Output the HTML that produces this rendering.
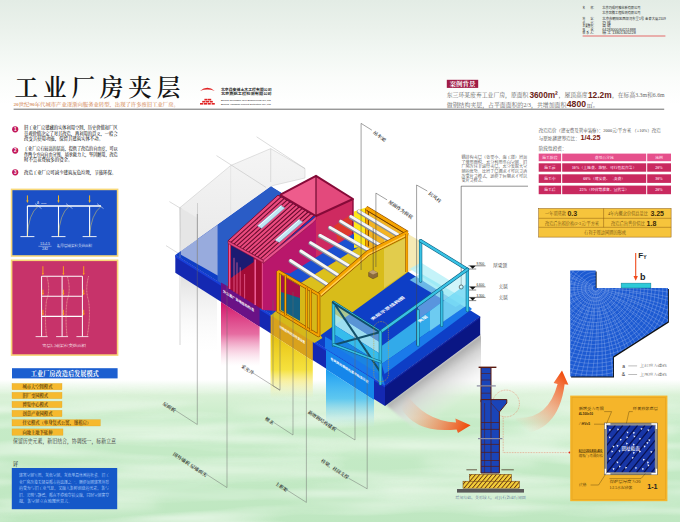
<!DOCTYPE html>
<html lang="zh"><head><meta charset="utf-8"><title>工业厂房夹层</title>
<style>html,body{margin:0;padding:0;background:#fff;overflow:hidden}svg{display:block}</style></head>
<body><svg width="680" height="522" viewBox="0 0 680 522">
<defs>
<linearGradient id="bg" x1="0" y1="0" x2="0" y2="522" gradientUnits="userSpaceOnUse">
<stop offset="0" stop-color="#e3ece5"/><stop offset="0.05" stop-color="#eaf1eb"/><stop offset="0.10" stop-color="#f2f7f3"/><stop offset="0.15" stop-color="#fafcfa"/><stop offset="0.2" stop-color="#ffffff"/>
<stop offset="0.728" stop-color="#ffffff"/><stop offset="0.757" stop-color="#d9f1d6"/><stop offset="0.81" stop-color="#c6ebc7"/><stop offset="1" stop-color="#bfe7c1"/>
</linearGradient>
<linearGradient id="gPink" x1="0" y1="0" x2="0" y2="1"><stop offset="0" stop-color="#d2146a" stop-opacity="1"/><stop offset="0.5" stop-color="#e0488a" stop-opacity=".8"/><stop offset="1" stop-color="#f8c0d8" stop-opacity="0"/></linearGradient>
<linearGradient id="gYel" x1="0" y1="0" x2="0" y2="1"><stop offset="0" stop-color="#e6c010" stop-opacity="1"/><stop offset="0.55" stop-color="#f4de28" stop-opacity=".9"/><stop offset="1" stop-color="#f6f0a0" stop-opacity="0"/></linearGradient>
<linearGradient id="gCy" x1="0" y1="0" x2="0" y2="1"><stop offset="0" stop-color="#1a9cf0" stop-opacity="1"/><stop offset="0.5" stop-color="#48c0f4" stop-opacity=".85"/><stop offset="1" stop-color="#b8e8f4" stop-opacity="0"/></linearGradient>
<linearGradient id="gGray" x1="0" y1="0" x2="0" y2="1"><stop offset="0" stop-color="#d6d6d6" stop-opacity=".9"/><stop offset="1" stop-color="#f4f4f4" stop-opacity="0"/></linearGradient>
<linearGradient id="gShadow" x1="432" y1="368" x2="458" y2="404" gradientUnits="userSpaceOnUse"><stop offset="0" stop-color="#a0a0a0" stop-opacity="1"/><stop offset="0.3" stop-color="#d0d0d0" stop-opacity=".9"/><stop offset="1" stop-color="#f0f0f0" stop-opacity="0"/></linearGradient>
<linearGradient id="gArrow1" x1="405" y1="395" x2="470" y2="425" gradientUnits="userSpaceOnUse"><stop offset="0" stop-color="#f8b090" stop-opacity="0"/><stop offset="0.45" stop-color="#f89468" stop-opacity=".6"/><stop offset="1" stop-color="#f04808"/></linearGradient>
<linearGradient id="gArrow2" x1="520" y1="425" x2="563" y2="372" gradientUnits="userSpaceOnUse"><stop offset="0" stop-color="#f8b090" stop-opacity="0"/><stop offset="0.45" stop-color="#f89468" stop-opacity=".6"/><stop offset="1" stop-color="#f04808"/></linearGradient>
<linearGradient id="gGhost" x1="0" y1="0" x2="0" y2="1"><stop offset="0" stop-color="#f5f5f5"/><stop offset="1" stop-color="#e9e9e9"/></linearGradient>
<linearGradient id="gGlassL" x1="0" y1="0" x2="0" y2="1"><stop offset="0" stop-color="#7fe6f6" stop-opacity=".55"/><stop offset="0.4" stop-color="#38c0ea" stop-opacity=".75"/><stop offset="1" stop-color="#1a8ee0" stop-opacity=".85"/></linearGradient>
<filter id="blur2" x="-20%" y="-20%" width="140%" height="140%"><feGaussianBlur stdDeviation="2"/></filter>
<filter id="blur4" x="-30%" y="-30%" width="160%" height="160%"><feGaussianBlur stdDeviation="4"/></filter>
<filter id="blur1" x="-20%" y="-20%" width="140%" height="140%"><feGaussianBlur stdDeviation="0.8"/></filter>
</defs>
<rect x="0.0" y="0.0" width="680.0" height="522.0" fill="url(#bg)" />
<filter id="wc" x="0" y="0" width="100%" height="100%"><feTurbulence type="fractalNoise" baseFrequency="0.006 0.07" numOctaves="2" seed="7" result="n"/><feColorMatrix in="n" type="matrix" values="0 0 0 0 0.93  0 0 0 0 0.98  0 0 0 0 0.92  0 0 0 2.4 -0.95"/></filter>
<linearGradient id="wcm" x1="0" y1="380" x2="0" y2="410" gradientUnits="userSpaceOnUse"><stop offset="0" stop-color="#000"/><stop offset="1" stop-color="#fff"/></linearGradient>
<mask id="wcmask" maskUnits="userSpaceOnUse" x="0" y="380" width="680" height="142"><rect x="0" y="380" width="680" height="142" fill="url(#wcm)"/></mask>
<rect x="0" y="380" width="680" height="142" filter="url(#wc)" mask="url(#wcmask)" opacity=".6"/>
<g filter="url(#blur4)" opacity=".55">
<ellipse cx="140" cy="428" rx="100" ry="6" fill="#eefaec"/>
<ellipse cx="430" cy="445" rx="130" ry="7" fill="#eefaec"/>
<ellipse cx="230" cy="470" rx="110" ry="6" fill="#eefaec"/>
<ellipse cx="500" cy="492" rx="120" ry="7" fill="#eefaec"/>
<ellipse cx="80" cy="505" rx="80" ry="6" fill="#eefaec"/>
<ellipse cx="600" cy="430" rx="80" ry="8" fill="#eefaec"/>
<ellipse cx="320" cy="410" rx="90" ry="5" fill="#eefaec"/>
<ellipse cx="480" cy="462" rx="60" ry="5" fill="#eefaec"/>
</g>
<rect x="13.6" y="108.6" width="650.6" height="1.3" fill="#8e8e8e" />
<text x="14.4" y="96.2" font-size="23.6" fill="#141414" font-family="'Liberation Serif','Noto Serif CJK SC',serif" font-weight="600" letter-spacing="4.9">工业厂房夹层</text>
<text x="13.4" y="105.9" font-size="5.0" fill="#d99a72" font-family="'Liberation Serif','Noto Serif CJK SC',serif" font-weight="600" text-anchor="start" textLength="165.5" lengthAdjust="spacingAndGlyphs" >20世纪90年代城市产业逐渐向服务业转型，出现了许多废旧工业厂房。</text>
<path d="M200,91 Q207.3,84.4 214.8,91 Q207.3,88.2 200,91Z" fill="#e02424"/>
<rect x="204.4" y="98.8" width="3.2" height="1.6" fill="#e02424" />
<rect x="208.0" y="98.8" width="3.2" height="1.6" fill="#e02424" />
<rect x="202.2" y="100.9" width="3.2" height="1.6" fill="#e02424" />
<rect x="205.8" y="100.9" width="3.2" height="1.6" fill="#e02424" />
<rect x="209.6" y="100.9" width="3.2" height="1.6" fill="#e02424" />
<rect x="200.0" y="103.0" width="3.2" height="1.6" fill="#e02424" />
<rect x="203.8" y="103.0" width="3.2" height="1.6" fill="#e02424" />
<rect x="207.6" y="103.0" width="3.2" height="1.6" fill="#e02424" />
<rect x="211.6" y="103.0" width="3.2" height="1.6" fill="#e02424" />
<text x="220.9" y="91.0" font-size="3.5" fill="#222" font-family="'Liberation Sans','Noto Sans CJK SC',sans-serif" font-weight="bold" text-anchor="start" textLength="50.7" lengthAdjust="spacingAndGlyphs" >北京昌安博土木工程有限公司</text>
<text x="220.9" y="95.1" font-size="3.5" fill="#222" font-family="'Liberation Sans','Noto Sans CJK SC',sans-serif" font-weight="bold" text-anchor="start" textLength="50.7" lengthAdjust="spacingAndGlyphs" >北京燕航工程检测有限公司</text>
<text x="220.9" y="101.2" font-size="2.5" fill="#222" font-family="'Liberation Sans','Noto Sans CJK SC',sans-serif" font-weight="normal" text-anchor="start" textLength="49.8" lengthAdjust="spacingAndGlyphs" >Beijing Reliangbo Civil Engineering Co.,Ltd</text>
<text x="220.9" y="104.7" font-size="2.5" fill="#222" font-family="'Liberation Sans','Noto Sans CJK SC',sans-serif" font-weight="normal" text-anchor="start" textLength="49.8" lengthAdjust="spacingAndGlyphs" >Beijing Yanghan Project Detection Co.,Ltd</text>
<circle cx="15.2" cy="129.3" r="3.1" fill="#c2185b"/>
<text x="15.2" y="130.9" font-size="4.6" fill="#fff" font-family="'Liberation Sans','Noto Sans CJK SC',sans-serif" font-weight="bold" text-anchor="middle" >1</text>
<text x="24.0" y="128.9" font-size="4.4" fill="#2a2a2a" font-family="'Liberation Serif','Noto Serif CJK SC',serif" font-weight="600" text-anchor="start" textLength="93.6" lengthAdjust="spacingAndGlyphs" >旧工业厂房建藏的实体利用空间，历史价值和厂区</text>
<text x="24.0" y="134.5" font-size="4.4" fill="#2a2a2a" font-family="'Liberation Serif','Noto Serif CJK SC',serif" font-weight="600" text-anchor="start" textLength="93.6" lengthAdjust="spacingAndGlyphs" >景观价值决定了对其改造，再利用的意义，一般会</text>
<text x="24.0" y="140.0" font-size="4.4" fill="#2a2a2a" font-family="'Liberation Serif','Noto Serif CJK SC',serif" font-weight="600" text-anchor="start" >改变其使用功能，保留其建筑实体不动。</text>
<circle cx="15.2" cy="150.6" r="3.1" fill="#c2185b"/>
<text x="15.2" y="152.2" font-size="4.6" fill="#fff" font-family="'Liberation Sans','Noto Sans CJK SC',sans-serif" font-weight="bold" text-anchor="middle" >2</text>
<text x="24.0" y="150.2" font-size="4.4" fill="#2a2a2a" font-family="'Liberation Serif','Noto Serif CJK SC',serif" font-weight="600" text-anchor="start" textLength="93.6" lengthAdjust="spacingAndGlyphs" >工业厂房有较高的层高，提供了改造的自由度，可以</text>
<text x="24.0" y="155.8" font-size="4.4" fill="#2a2a2a" font-family="'Liberation Serif','Noto Serif CJK SC',serif" font-weight="600" text-anchor="start" textLength="93.6" lengthAdjust="spacingAndGlyphs" >作两个方向自由分割。墙承载力大，坚固耐用，改造</text>
<text x="24.0" y="161.3" font-size="4.4" fill="#2a2a2a" font-family="'Liberation Serif','Noto Serif CJK SC',serif" font-weight="600" text-anchor="start" >时不需花费较多的资金。</text>
<circle cx="15.2" cy="172.3" r="3.1" fill="#c2185b"/>
<text x="15.2" y="173.9" font-size="4.6" fill="#fff" font-family="'Liberation Sans','Noto Sans CJK SC',sans-serif" font-weight="bold" text-anchor="middle" >3</text>
<text x="24.0" y="173.6" font-size="4.4" fill="#2a2a2a" font-family="'Liberation Serif','Noto Serif CJK SC',serif" font-weight="600" text-anchor="start" >改造工业厂房可减少建筑灰色垃圾，节能环保。</text>
<rect x="11.6" y="189.4" width="106.0" height="66.6" fill="#1b4fc6" stroke="#f8d878" stroke-width="1.6" />
<line x1="27.4" y1="206.0" x2="27.4" y2="236.6" stroke="#fff" stroke-width="1.1" />
<line x1="20.4" y1="236.6" x2="34.4" y2="236.6" stroke="#fff" stroke-width="0.9" />
<line x1="27.4" y1="195.4" x2="27.4" y2="201.0" stroke="#f0b428" stroke-width="1.0" />
<polygon points="26.2,200.4 28.6,200.4 27.4,203.0" fill="#f0b428" />
<line x1="58.5" y1="206.0" x2="58.5" y2="236.6" stroke="#fff" stroke-width="1.1" />
<line x1="51.5" y1="236.6" x2="65.5" y2="236.6" stroke="#fff" stroke-width="0.9" />
<line x1="58.5" y1="195.4" x2="58.5" y2="201.0" stroke="#f0b428" stroke-width="1.0" />
<polygon points="57.3,200.4 59.7,200.4 58.5,203.0" fill="#f0b428" />
<line x1="89.6" y1="206.0" x2="89.6" y2="236.6" stroke="#fff" stroke-width="1.1" />
<line x1="82.6" y1="236.6" x2="96.6" y2="236.6" stroke="#fff" stroke-width="0.9" />
<line x1="89.6" y1="195.4" x2="89.6" y2="201.0" stroke="#f0b428" stroke-width="1.0" />
<polygon points="88.4,200.4 90.8,200.4 89.6,203.0" fill="#f0b428" />
<line x1="27.4" y1="206.0" x2="101.0" y2="206.0" stroke="#fff" stroke-width="1.3" />
<path d="M27.4,236 Q28.4,214 38,206.4" fill="none" stroke="#ffe04a" stroke-width=".45"/>
<path d="M58.5,236 Q59.5,214 69,206.4" fill="none" stroke="#ffe04a" stroke-width=".45"/>
<path d="M89.6,236 Q91,214 101,206.4" fill="none" stroke="#ffe04a" stroke-width=".45"/>
<line x1="35.0" y1="203.6" x2="41.5" y2="208.6" stroke="#fff" stroke-width="0.5" />
<line x1="66.0" y1="203.6" x2="72.5" y2="208.6" stroke="#fff" stroke-width="0.5" />
<line x1="97.0" y1="203.6" x2="103.5" y2="208.6" stroke="#fff" stroke-width="0.5" />
<text x="37.0" y="203.6" font-size="3" fill="#fff" font-family="'Liberation Sans','Noto Sans CJK SC',sans-serif" font-weight="normal" text-anchor="start" >Δ</text>
<text x="41.0" y="203.6" font-size="2.4" fill="#fff" font-family="'Liberation Sans','Noto Sans CJK SC',sans-serif" font-weight="normal" text-anchor="start" >6000</text>
<text x="45.0" y="245.4" font-size="2.9" fill="#fff" font-family="'Liberation Sans','Noto Sans CJK SC',sans-serif" font-weight="normal" text-anchor="middle" >1.5+1.5</text>
<line x1="38.4" y1="246.3" x2="51.6" y2="246.3" stroke="#fff" stroke-width="0.4" />
<text x="45.0" y="249.6" font-size="2.9" fill="#fff" font-family="'Liberation Sans','Noto Sans CJK SC',sans-serif" font-weight="normal" text-anchor="middle" >2.82</text>
<text x="57.0" y="247.3" font-size="3.6" fill="#fff" font-family="'Liberation Serif','Noto Serif CJK SC',serif" font-weight="normal" text-anchor="start" textLength="35.0" lengthAdjust="spacingAndGlyphs" >振单层刚架柱变截面积</text>
<rect x="11.6" y="260.3" width="106.0" height="94.8" fill="#c7336a" stroke="#f8d878" stroke-width="1.6" />
<line x1="41.6" y1="276.2" x2="41.6" y2="336.6" stroke="#fff" stroke-width="1.0" />
<line x1="62.1" y1="276.2" x2="62.1" y2="336.6" stroke="#fff" stroke-width="1.0" />
<line x1="82.4" y1="276.2" x2="82.4" y2="336.6" stroke="#fff" stroke-width="1.0" />
<line x1="41.6" y1="276.2" x2="82.4" y2="276.2" stroke="#fff" stroke-width="1.1" />
<line x1="41.6" y1="296.3" x2="82.4" y2="296.3" stroke="#fff" stroke-width="1.1" />
<line x1="41.6" y1="316.4" x2="82.4" y2="316.4" stroke="#fff" stroke-width="1.1" />
<line x1="35.6" y1="336.6" x2="47.6" y2="336.6" stroke="#fff" stroke-width="0.8" />
<line x1="56.1" y1="336.6" x2="68.1" y2="336.6" stroke="#fff" stroke-width="0.8" />
<line x1="76.4" y1="336.6" x2="88.4" y2="336.6" stroke="#fff" stroke-width="0.8" />
<line x1="42.9" y1="266.2" x2="42.9" y2="273.8" stroke="#ffa51c" stroke-width="0.9" />
<polygon points="41.8,273.2 44.0,273.2 42.9,275.2" fill="#ffa51c" />
<line x1="42.9" y1="289.7" x2="42.9" y2="293.9" stroke="#ffa51c" stroke-width="0.9" />
<polygon points="41.8,293.3 44.0,293.3 42.9,295.3" fill="#ffa51c" />
<line x1="42.9" y1="309.8" x2="42.9" y2="314.0" stroke="#ffa51c" stroke-width="0.9" />
<polygon points="41.8,313.4 44.0,313.4 42.9,315.4" fill="#ffa51c" />
<line x1="63.4" y1="266.2" x2="63.4" y2="273.8" stroke="#ffa51c" stroke-width="0.9" />
<polygon points="62.3,273.2 64.5,273.2 63.4,275.2" fill="#ffa51c" />
<line x1="63.4" y1="289.7" x2="63.4" y2="293.9" stroke="#ffa51c" stroke-width="0.9" />
<polygon points="62.3,293.3 64.5,293.3 63.4,295.3" fill="#ffa51c" />
<line x1="63.4" y1="309.8" x2="63.4" y2="314.0" stroke="#ffa51c" stroke-width="0.9" />
<polygon points="62.3,313.4 64.5,313.4 63.4,315.4" fill="#ffa51c" />
<line x1="83.7" y1="266.2" x2="83.7" y2="273.8" stroke="#ffa51c" stroke-width="0.9" />
<polygon points="82.6,273.2 84.8,273.2 83.7,275.2" fill="#ffa51c" />
<line x1="83.7" y1="289.7" x2="83.7" y2="293.9" stroke="#ffa51c" stroke-width="0.9" />
<polygon points="82.6,293.3 84.8,293.3 83.7,295.3" fill="#ffa51c" />
<line x1="83.7" y1="309.8" x2="83.7" y2="314.0" stroke="#ffa51c" stroke-width="0.9" />
<polygon points="82.6,313.4 84.8,313.4 83.7,315.4" fill="#ffa51c" />
<path d="M88.6,276 Q85,290 88.4,300 Q91,316 87.2,336" fill="none" stroke="#ffe9b0" stroke-width=".5" stroke-dasharray="1,.5"/>
<path d="M47,277 Q50.5,290 46.6,300 Q44.4,316 46.4,336" fill="none" stroke="#ffe9b0" stroke-width=".5" stroke-dasharray="1,.5"/>
<path d="M67.5,277 Q71,290 67.2,300 Q65,316 67,336" fill="none" stroke="#ffe9b0" stroke-width=".5" stroke-dasharray="1,.5"/>
<text x="64.0" y="347.4" font-size="3.7" fill="#fff" font-family="'Liberation Serif','Noto Serif CJK SC',serif" font-weight="normal" text-anchor="middle" textLength="44.0" lengthAdjust="spacingAndGlyphs" >夹层后刚架柱变截面积</text>
<rect x="12.0" y="368.2" width="105.6" height="10.2" fill="#1c5fd0" />
<text x="64.8" y="375.9" font-size="6.3" fill="#fff" font-family="'Liberation Serif','Noto Serif CJK SC',serif" font-weight="bold" text-anchor="middle" textLength="68.0" lengthAdjust="spacingAndGlyphs" >工业厂房改造后发展模式</text>
<rect x="12.0" y="383.4" width="50.0" height="6.4" fill="#f6b92e" stroke="#dca324" stroke-width="0.3" />
<text x="22.4" y="388.2" font-size="4.3" fill="#6a4a10" font-family="'Liberation Serif','Noto Serif CJK SC',serif" font-weight="bold" text-anchor="start" >城市大空间模式</text>
<rect x="12.0" y="392.3" width="50.0" height="6.4" fill="#f6b92e" stroke="#dca324" stroke-width="0.3" />
<text x="22.4" y="397.1" font-size="4.3" fill="#6a4a10" font-family="'Liberation Serif','Noto Serif CJK SC',serif" font-weight="bold" text-anchor="start" >旧厂变园模式</text>
<rect x="12.0" y="401.3" width="50.0" height="6.4" fill="#f6b92e" stroke="#dca324" stroke-width="0.3" />
<text x="22.4" y="406.1" font-size="4.3" fill="#6a4a10" font-family="'Liberation Serif','Noto Serif CJK SC',serif" font-weight="bold" text-anchor="start" >博览中心模式</text>
<rect x="12.0" y="410.3" width="50.0" height="6.4" fill="#f6b92e" stroke="#dca324" stroke-width="0.3" />
<text x="22.4" y="415.1" font-size="4.3" fill="#6a4a10" font-family="'Liberation Serif','Noto Serif CJK SC',serif" font-weight="bold" text-anchor="start" >创意产业园模式</text>
<rect x="12.0" y="419.6" width="88.4" height="6.4" fill="#f6b92e" stroke="#dca324" stroke-width="0.3" />
<text x="22.4" y="424.4" font-size="4.3" fill="#6a4a10" font-family="'Liberation Serif','Noto Serif CJK SC',serif" font-weight="bold" text-anchor="start" >住宅模式（单身复式公寓，廉租房）</text>
<rect x="12.0" y="428.9" width="51.0" height="6.4" fill="#f6b92e" stroke="#dca324" stroke-width="0.3" />
<text x="22.4" y="433.7" font-size="4.3" fill="#6a4a10" font-family="'Liberation Serif','Noto Serif CJK SC',serif" font-weight="bold" text-anchor="start" >向地上地下延伸</text>
<text x="13.0" y="443.2" font-size="5.6" fill="#333" font-family="'Liberation Serif','Noto Serif CJK SC',serif" font-weight="normal" text-anchor="start" textLength="103.0" lengthAdjust="spacingAndGlyphs" >保留历史元素，新旧结合，协调统一，标新立意</text>
<text x="13.0" y="466.0" font-size="5.2" fill="#333" font-family="'Liberation Serif','Noto Serif CJK SC',serif" font-weight="600" text-anchor="start" >评</text>
<rect x="11.8" y="468.0" width="105.4" height="41.2" fill="#1558c8" />
<text x="19.0" y="477.0" font-size="4.1" fill="#bfd8ff" font-family="'Liberation Serif','Noto Serif CJK SC',serif" font-weight="normal" text-anchor="start" textLength="90.0" lengthAdjust="spacingAndGlyphs" >建筑空间实用，灰色空间，灰色里最休闲的社会。旧工</text>
<text x="19.0" y="483.6" font-size="4.1" fill="#bfd8ff" font-family="'Liberation Serif','Noto Serif CJK SC',serif" font-weight="normal" text-anchor="start" textLength="90.0" lengthAdjust="spacingAndGlyphs" >业厂房改造无疑是都市的选择之一。顺便加固建筑外形</text>
<text x="19.0" y="490.2" font-size="4.1" fill="#bfd8ff" font-family="'Liberation Serif','Noto Serif CJK SC',serif" font-weight="normal" text-anchor="start" textLength="90.0" lengthAdjust="spacingAndGlyphs" >的变为与旧工业气息，又融入新鲜创意的元素，新与</text>
<text x="19.0" y="496.8" font-size="4.1" fill="#bfd8ff" font-family="'Liberation Serif','Noto Serif CJK SC',serif" font-weight="normal" text-anchor="start" textLength="90.0" lengthAdjust="spacingAndGlyphs" >旧、光明与静谧，都在不停地穿插交融，同时空间富穿</text>
<text x="19.0" y="503.4" font-size="4.1" fill="#bfd8ff" font-family="'Liberation Serif','Noto Serif CJK SC',serif" font-weight="normal" text-anchor="start" >越，新空间立在地理世界去。</text>
<text x="582.6" y="9.4" font-size="3.3" fill="#2a2a2a" font-family="'Liberation Sans','Noto Sans CJK SC',sans-serif" font-weight="normal" text-anchor="start" textLength="13.0" lengthAdjust="spacingAndGlyphs" >名　　称：</text>
<text x="602.3" y="9.4" font-size="3.3" fill="#2a2a2a" font-family="'Liberation Sans','Noto Sans CJK SC',sans-serif" font-weight="normal" text-anchor="start" textLength="38.0" lengthAdjust="spacingAndGlyphs" >北京巧成时雅化新有限公司</text>
<text x="602.3" y="14.2" font-size="3.3" fill="#2a2a2a" font-family="'Liberation Sans','Noto Sans CJK SC',sans-serif" font-weight="normal" text-anchor="start" textLength="38.0" lengthAdjust="spacingAndGlyphs" >北京奔腾工程检测有限公司</text>
<text x="582.6" y="19.6" font-size="3.3" fill="#2a2a2a" font-family="'Liberation Sans','Noto Sans CJK SC',sans-serif" font-weight="normal" text-anchor="start" textLength="13.0" lengthAdjust="spacingAndGlyphs" >地　　址：</text>
<text x="602.3" y="19.6" font-size="3.3" fill="#2a2a2a" font-family="'Liberation Sans','Noto Sans CJK SC',sans-serif" font-weight="normal" text-anchor="start" textLength="63.5" lengthAdjust="spacingAndGlyphs" >北京市朝阳区西坝河东里1号 金泰大厦2109</text>
<text x="582.6" y="24.0" font-size="3.3" fill="#2a2a2a" font-family="'Liberation Sans','Noto Sans CJK SC',sans-serif" font-weight="normal" text-anchor="start" textLength="13.0" lengthAdjust="spacingAndGlyphs" >设　　计：</text>
<text x="602.3" y="24.0" font-size="3.3" fill="#2a2a2a" font-family="'Liberation Sans','Noto Sans CJK SC',sans-serif" font-weight="normal" text-anchor="start" textLength="8.5" lengthAdjust="spacingAndGlyphs" >巧 成</text>
<text x="582.6" y="27.2" font-size="3.3" fill="#2a2a2a" font-family="'Liberation Sans','Noto Sans CJK SC',sans-serif" font-weight="normal" text-anchor="start" textLength="13.0" lengthAdjust="spacingAndGlyphs" >主要整理：</text>
<text x="602.3" y="27.2" font-size="3.3" fill="#2a2a2a" font-family="'Liberation Sans','Noto Sans CJK SC',sans-serif" font-weight="normal" text-anchor="start" textLength="8.5" lengthAdjust="spacingAndGlyphs" >高 健</text>
<text x="582.6" y="30.8" font-size="3.3" fill="#2a2a2a" font-family="'Liberation Sans','Noto Sans CJK SC',sans-serif" font-weight="normal" text-anchor="start" textLength="13.0" lengthAdjust="spacingAndGlyphs" >电　　话：</text>
<text x="602.3" y="30.8" font-size="3.3" fill="#2a2a2a" font-family="'Liberation Sans','Noto Sans CJK SC',sans-serif" font-weight="normal" text-anchor="start" textLength="33.5" lengthAdjust="spacingAndGlyphs" >64283000/64211888</text>
<text x="582.6" y="34.2" font-size="3.3" fill="#2a2a2a" font-family="'Liberation Sans','Noto Sans CJK SC',sans-serif" font-weight="normal" text-anchor="start" textLength="13.0" lengthAdjust="spacingAndGlyphs" >联 系 人：</text>
<text x="602.3" y="34.2" font-size="3.3" fill="#2a2a2a" font-family="'Liberation Sans','Noto Sans CJK SC',sans-serif" font-weight="normal" text-anchor="start" textLength="33.5" lengthAdjust="spacingAndGlyphs" >杨 工  13801305228</text>
<rect x="582.6" y="35.6" width="82.8" height="0.8" fill="#e04848" />
<rect x="446.8" y="79.8" width="31.4" height="8.1" fill="#a01c46" />
<text x="462.5" y="86.1" font-size="5.4" fill="#fff" font-family="'Liberation Serif','Noto Serif CJK SC',serif" font-weight="bold" text-anchor="middle" textLength="26.0" lengthAdjust="spacingAndGlyphs" >案例背景</text>
<text x="446.8" y="97.3" font-size="5.8" fill="#666" font-family="'Liberation Serif','Noto Serif CJK SC',serif" font-weight="normal" text-anchor="start" textLength="81.6" lengthAdjust="spacingAndGlyphs" >东三环某废弃工业厂房，原面积</text>
<text x="529.4" y="97.5" font-size="9.0" fill="#6b2416" font-family="'Liberation Sans','Noto Sans CJK SC',sans-serif" font-weight="bold" text-anchor="start" textLength="28.4" lengthAdjust="spacingAndGlyphs" >3600m²</text>
<text x="558.6" y="97.3" font-size="5.8" fill="#666" font-family="'Liberation Serif','Noto Serif CJK SC',serif" font-weight="normal" text-anchor="start" textLength="29.0" lengthAdjust="spacingAndGlyphs" >，屋顶高度</text>
<text x="587.9" y="97.5" font-size="9.0" fill="#6b2416" font-family="'Liberation Sans','Noto Sans CJK SC',sans-serif" font-weight="bold" text-anchor="start" textLength="23.7" lengthAdjust="spacingAndGlyphs" >12.2m</text>
<text x="612.0" y="97.3" font-size="5.8" fill="#666" font-family="'Liberation Serif','Noto Serif CJK SC',serif" font-weight="normal" text-anchor="start" textLength="52.6" lengthAdjust="spacingAndGlyphs" >，在标高3.3m和6.6m</text>
<text x="446.8" y="106.7" font-size="5.8" fill="#666" font-family="'Liberation Serif','Noto Serif CJK SC',serif" font-weight="normal" text-anchor="start" textLength="119.6" lengthAdjust="spacingAndGlyphs" >做钢结构夹层，占平面面积的2/3，共增加面积</text>
<text x="566.8" y="106.8" font-size="9.0" fill="#6b2416" font-family="'Liberation Sans','Noto Sans CJK SC',sans-serif" font-weight="bold" text-anchor="start" textLength="19.2" lengthAdjust="spacingAndGlyphs" >4800</text>
<text x="587.0" y="106.7" font-size="5.8" fill="#666" font-family="'Liberation Serif','Noto Serif CJK SC',serif" font-weight="normal" text-anchor="start" >㎡。</text>
<text x="538.7" y="132.2" font-size="4.5" fill="#444" font-family="'Liberation Serif','Noto Serif CJK SC',serif" font-weight="normal" text-anchor="start" textLength="122.0" lengthAdjust="spacingAndGlyphs" >改造造价（建安费及管申装修）：2000元/平方米 （±10%）改造</text>
<text x="538.7" y="139.6" font-size="4.5" fill="#444" font-family="'Liberation Serif','Noto Serif CJK SC',serif" font-weight="normal" text-anchor="start" textLength="41.0" lengthAdjust="spacingAndGlyphs" >与原址翻建筹造比：</text>
<text x="580.4" y="140.4" font-size="7.4" fill="#7a1c10" font-family="'Liberation Sans','Noto Sans CJK SC',sans-serif" font-weight="bold" text-anchor="start" textLength="20.0" lengthAdjust="spacingAndGlyphs" >1/4.25</text>
<text x="538.7" y="149.9" font-size="5" fill="#444" font-family="'Liberation Serif','Noto Serif CJK SC',serif" font-weight="normal" text-anchor="start" textLength="28.0" lengthAdjust="spacingAndGlyphs" >阶段性投资：</text>
<rect x="538.7" y="153.6" width="22.4" height="7.6" fill="#e6508c" />
<text x="549.9" y="158.8" font-size="3.8" fill="#ffd6e6" font-family="'Liberation Serif','Noto Serif CJK SC',serif" font-weight="bold" text-anchor="middle" >施工阶段</text>
<rect x="562.2" y="153.6" width="84.0" height="7.6" fill="#e6508c" />
<text x="604.2" y="158.8" font-size="3.8" fill="#ffd6e6" font-family="'Liberation Serif','Noto Serif CJK SC',serif" font-weight="bold" text-anchor="middle" >费用百分比</text>
<rect x="647.2" y="153.6" width="23.8" height="7.6" fill="#e6508c" />
<text x="659.1" y="158.8" font-size="3.8" fill="#ffd6e6" font-family="'Liberation Serif','Noto Serif CJK SC',serif" font-weight="bold" text-anchor="middle" >比例</text>
<rect x="538.7" y="163.3" width="22.4" height="8.4" fill="#c9295f" />
<text x="549.9" y="168.9" font-size="3.8" fill="#ffd6e6" font-family="'Liberation Serif','Noto Serif CJK SC',serif" font-weight="bold" text-anchor="middle" >施工前</text>
<rect x="562.2" y="163.3" width="84.0" height="8.4" fill="#c9295f" />
<text x="604.2" y="168.9" font-size="3.8" fill="#ffd6e6" font-family="'Liberation Serif','Noto Serif CJK SC',serif" font-weight="bold" text-anchor="middle" >10%（土地费、勘察、可行性报告等）</text>
<rect x="647.2" y="163.3" width="23.8" height="8.4" fill="#c9295f" />
<text x="659.1" y="168.9" font-size="3.8" fill="#ffd6e6" font-family="'Liberation Serif','Noto Serif CJK SC',serif" font-weight="bold" text-anchor="middle" >20%</text>
<rect x="538.7" y="174.3" width="22.4" height="8.6" fill="#c9295f" />
<text x="549.9" y="180.0" font-size="3.8" fill="#ffd6e6" font-family="'Liberation Serif','Noto Serif CJK SC',serif" font-weight="bold" text-anchor="middle" >施工中</text>
<rect x="562.2" y="174.3" width="84.0" height="8.6" fill="#c9295f" />
<text x="604.2" y="180.0" font-size="3.8" fill="#ffd6e6" font-family="'Liberation Serif','Noto Serif CJK SC',serif" font-weight="bold" text-anchor="middle" >60%（建安费、二类费）</text>
<rect x="647.2" y="174.3" width="23.8" height="8.6" fill="#c9295f" />
<text x="659.1" y="180.0" font-size="3.8" fill="#ffd6e6" font-family="'Liberation Serif','Noto Serif CJK SC',serif" font-weight="bold" text-anchor="middle" >30%</text>
<rect x="538.7" y="185.6" width="22.4" height="8.6" fill="#c9295f" />
<text x="549.9" y="191.3" font-size="3.8" fill="#ffd6e6" font-family="'Liberation Serif','Noto Serif CJK SC',serif" font-weight="bold" text-anchor="middle" >施工后</text>
<rect x="562.2" y="185.6" width="84.0" height="8.6" fill="#c9295f" />
<text x="604.2" y="191.3" font-size="3.8" fill="#ffd6e6" font-family="'Liberation Serif','Noto Serif CJK SC',serif" font-weight="bold" text-anchor="middle" >25%（经营筹准备、宣传等）</text>
<rect x="647.2" y="185.6" width="23.8" height="8.6" fill="#c9295f" />
<text x="659.1" y="191.3" font-size="3.8" fill="#ffd6e6" font-family="'Liberation Serif','Noto Serif CJK SC',serif" font-weight="bold" text-anchor="middle" >20%</text>
<rect x="538.7" y="208.5" width="132.4" height="28.6" fill="#f6c43c" stroke="#8a5a10" stroke-width="0.5" />
<line x1="538.7" y1="218.3" x2="671.1" y2="218.3" stroke="#8a5a10" stroke-width="0.5" />
<line x1="538.7" y1="227.3" x2="671.1" y2="227.3" stroke="#8a5a10" stroke-width="0.5" />
<line x1="603.6" y1="208.5" x2="603.6" y2="227.3" stroke="#8a5a10" stroke-width="0.5" />
<text x="545.0" y="215.4" font-size="4.2" fill="#6a4a10" font-family="'Liberation Serif','Noto Serif CJK SC',serif" font-weight="normal" text-anchor="start" textLength="21.0" lengthAdjust="spacingAndGlyphs" >一年期贷款</text>
<text x="567.4" y="216.4" font-size="7" fill="#3a2a08" font-family="'Liberation Sans','Noto Sans CJK SC',sans-serif" font-weight="bold" text-anchor="start" >0.3</text>
<text x="608.0" y="215.4" font-size="4.2" fill="#6a4a10" font-family="'Liberation Serif','Noto Serif CJK SC',serif" font-weight="normal" text-anchor="start" textLength="40.0" lengthAdjust="spacingAndGlyphs" >4年内概念价值总量比</text>
<text x="650.4" y="216.4" font-size="7" fill="#3a2a08" font-family="'Liberation Sans','Noto Sans CJK SC',sans-serif" font-weight="bold" text-anchor="start" >3.25</text>
<text x="545.0" y="224.6" font-size="4.2" fill="#6a4a10" font-family="'Liberation Serif','Noto Serif CJK SC',serif" font-weight="normal" text-anchor="start" textLength="54.0" lengthAdjust="spacingAndGlyphs" >改造后出租价格(2-3元/平方米</text>
<text x="611.0" y="224.6" font-size="4.2" fill="#6a4a10" font-family="'Liberation Serif','Noto Serif CJK SC',serif" font-weight="normal" text-anchor="start" textLength="34.0" lengthAdjust="spacingAndGlyphs" >改造后出售价值比</text>
<text x="646.6" y="225.6" font-size="7" fill="#3a2a08" font-family="'Liberation Sans','Noto Sans CJK SC',sans-serif" font-weight="bold" text-anchor="start" >1.8</text>
<text x="605.0" y="234.0" font-size="4.2" fill="#6a4a10" font-family="'Liberation Serif','Noto Serif CJK SC',serif" font-weight="normal" text-anchor="middle" textLength="42.0" lengthAdjust="spacingAndGlyphs" >有利于周边园圃的形成</text>
<text x="461.4" y="158.9" font-size="4.0" fill="#3a3a3a" font-family="'Liberation Serif','Noto Serif CJK SC',serif" font-weight="normal" text-anchor="start" textLength="65.8" lengthAdjust="spacingAndGlyphs" >钢排构夹层（垫要小、施工简）增加</text>
<text x="461.4" y="163.7" font-size="4.0" fill="#3a3a3a" font-family="'Liberation Serif','Noto Serif CJK SC',serif" font-weight="normal" text-anchor="start" textLength="65.8" lengthAdjust="spacingAndGlyphs" >了使用面积，充分利用竖向空间。旧</text>
<text x="461.4" y="168.3" font-size="4.0" fill="#3a3a3a" font-family="'Liberation Serif','Noto Serif CJK SC',serif" font-weight="normal" text-anchor="start" textLength="65.8" lengthAdjust="spacingAndGlyphs" >厂房改往非进行夹层，充分发掘大空</text>
<text x="461.4" y="172.9" font-size="4.0" fill="#3a3a3a" font-family="'Liberation Serif','Noto Serif CJK SC',serif" font-weight="normal" text-anchor="start" textLength="65.8" lengthAdjust="spacingAndGlyphs" >间的优势。比增于层测求才可以灵活</text>
<text x="461.4" y="177.5" font-size="4.0" fill="#3a3a3a" font-family="'Liberation Serif','Noto Serif CJK SC',serif" font-weight="normal" text-anchor="start" textLength="65.8" lengthAdjust="spacingAndGlyphs" >改变片灵模式，运便于后期求才可以</text>
<text x="461.4" y="182.2" font-size="4.0" fill="#3a3a3a" font-family="'Liberation Serif','Noto Serif CJK SC',serif" font-weight="normal" text-anchor="start" >变片灵模式。</text>
<polyline points="528.0,186.2 461.2,186.2 461.2,285.0" fill="none" stroke="#222" stroke-width="0.5" />
<circle cx="461.2" cy="287" r="2" fill="none" stroke="#222" stroke-width=".5"/>
<line x1="468.5" y1="265.8" x2="485.5" y2="265.8" stroke="#111" stroke-width="0.5" />
<polygon points="469.6,265.8 475.6,265.8 472.6,268.8" fill="#111" />
<line x1="469.0" y1="269.0" x2="476.2" y2="269.0" stroke="#111" stroke-width="0.5" />
<text x="476.4" y="265.0" font-size="3.1" fill="#222" font-family="'Liberation Sans','Noto Sans CJK SC',sans-serif" font-weight="normal" text-anchor="start" >9.900</text>
<text x="493.0" y="267.3" font-size="4.7" fill="#333" font-family="'Liberation Serif','Noto Serif CJK SC',serif" font-weight="normal" text-anchor="start" >屋梁顶</text>
<line x1="468.5" y1="286.8" x2="485.5" y2="286.8" stroke="#111" stroke-width="0.5" />
<polygon points="469.6,286.8 475.6,286.8 472.6,289.8" fill="#111" />
<line x1="469.0" y1="290.0" x2="476.2" y2="290.0" stroke="#111" stroke-width="0.5" />
<text x="476.4" y="286.0" font-size="3.1" fill="#222" font-family="'Liberation Sans','Noto Sans CJK SC',sans-serif" font-weight="normal" text-anchor="start" >6.600</text>
<text x="498.4" y="288.3" font-size="4.7" fill="#333" font-family="'Liberation Serif','Noto Serif CJK SC',serif" font-weight="normal" text-anchor="start" >夹层</text>
<line x1="468.5" y1="297.4" x2="485.5" y2="297.4" stroke="#111" stroke-width="0.5" />
<polygon points="469.6,297.4 475.6,297.4 472.6,300.4" fill="#111" />
<line x1="469.0" y1="300.6" x2="476.2" y2="300.6" stroke="#111" stroke-width="0.5" />
<text x="476.4" y="296.6" font-size="3.1" fill="#222" font-family="'Liberation Sans','Noto Sans CJK SC',sans-serif" font-weight="normal" text-anchor="start" >3.300</text>
<text x="498.4" y="298.9" font-size="4.7" fill="#333" font-family="'Liberation Serif','Noto Serif CJK SC',serif" font-weight="normal" text-anchor="start" >夹层</text>
<clipPath id="shc"><rect x="380" y="300" width="101" height="160"/></clipPath>
<g clip-path="url(#shc)">
<polygon points="386.0,405.0 480.2,335.0 530.0,340.0 530.0,400.0 440.0,450.0" fill="url(#gShadow)" filter="url(#blur1)"/>
</g>
<polygon points="181.0,268.0 197.3,278.0 197.3,345.0 181.0,345.0" fill="url(#gGray)" />
<polygon points="197.3,278.0 217.0,290.5 217.0,352.0 197.3,352.0" fill="url(#gGray)" opacity=".7"/>
<polygon points="180.0,207.6 230.7,165.5 270.7,148.6 305.0,168.6 305.0,178.0 273.0,185.5 217.0,229.0 181.0,251.0" fill="url(#gGhost)" stroke="#c4c4c4" stroke-width="0.5" stroke-linejoin="round" />
<line x1="256.6" y1="136.8" x2="305.0" y2="168.6" stroke="#b8b8b8" stroke-width="0.5" />
<line x1="216.5" y1="155.6" x2="266.0" y2="187.4" stroke="#b8b8b8" stroke-width="0.5" />
<line x1="169.4" y1="201.6" x2="182.0" y2="209.2" stroke="#b8b8b8" stroke-width="0.5" />
<line x1="270.7" y1="148.6" x2="270.7" y2="182.0" stroke="#b8b8b8" stroke-width="0.4" />
<line x1="230.7" y1="165.5" x2="230.7" y2="214.0" stroke="#d4d4d4" stroke-width="0.4" />
<line x1="166.0" y1="245.6" x2="181.0" y2="255.0" stroke="#b8b8b8" stroke-width="0.5" />
<polygon points="175.3,255.0 271.0,186.5 480.2,316.5 385.0,385.4" fill="#0e3ec6" />
<polygon points="271.0,186.5 282.0,193.5 228.0,241.0 228.0,288.0 217.6,281.5 217.6,225.0" fill="#2a5cc6" />
<polygon points="181.0,251.0 217.6,224.8 217.6,275.6 181.0,254.8" fill="#a4b4de" opacity=".92"/>
<polygon points="180.0,207.6 197.5,218.0 197.5,239.2 181.0,251.0" fill="#e6e6e6" />
<line x1="197.5" y1="203.0" x2="197.5" y2="262.0" stroke="#b0b0b0" stroke-width="0.5" />
<line x1="180.0" y1="207.6" x2="180.0" y2="345.0" stroke="#aaa" stroke-width="0.5" />
<polygon points="175.3,255.0 385.0,385.4 385.0,406.1 175.3,272.7" fill="#1428b2" />
<polygon points="175.3,255.0 385.0,385.4 385.0,387.6 175.3,257.2" fill="#1840d8" />
<polygon points="385.0,385.4 480.2,316.5 480.2,335.1 385.0,406.1" fill="#0a1684" />
<polygon points="385.0,385.4 480.2,316.5 480.2,318.0 385.0,386.9" fill="#1024a4" />
<polygon points="221.0,283.7 259.6,307.9 259.6,326.8 221.0,302.0" fill="#6a1286" />
<polygon points="221.0,282.6 259.6,303.6 259.6,309.0 221.0,285.0" fill="#6a1286" />
<polygon points="221.0,302.0 259.6,326.8 259.6,366.0 221.0,366.0" fill="url(#gPink)" />
<polygon points="270.6,314.8 312.8,341.2 312.8,360.9 270.6,333.8" fill="#d9a21c" />
<polygon points="270.6,333.8 312.8,360.9 312.8,399.0 270.6,399.0" fill="url(#gYel)" />
<polygon points="326.0,349.5 374.0,379.6 374.0,400.1 326.0,369.3" fill="#1586ea" />
<polygon points="326.0,369.3 374.0,400.1 374.0,428.0 326.0,428.0" fill="url(#gCy)" />
<text transform="matrix(1,0.627,0,1,223.0,292.3)" font-size="3.5" fill="#fff" font-family="'Liberation Sans','Noto Sans CJK SC',sans-serif" font-weight="bold" textLength="31" lengthAdjust="spacingAndGlyphs">外立面广告墙结构构造</text>
<text transform="matrix(1,0.627,0,1,279.5,327.7)" font-size="3.3" fill="#fff" font-family="'Liberation Sans','Noto Sans CJK SC',sans-serif" font-weight="bold" textLength="25.6" lengthAdjust="spacingAndGlyphs">新钢结构抗震柱梁设置</text>
<text transform="matrix(1,0.627,0,1,330.5,359.7)" font-size="3.4" fill="#fff" font-family="'Liberation Sans','Noto Sans CJK SC',sans-serif" font-weight="bold" textLength="38" lengthAdjust="spacingAndGlyphs">有夹层的钢结构基本构造示意</text>
<polygon points="263.0,260.5 311.0,221.0 316.0,216.0 353.0,199.0 353.0,247.0 278.0,311.0 263.0,310.0" fill="#b9176b" />
<polygon points="228.0,241.0 263.0,260.5 263.0,310.0 228.0,288.0" fill="#a30b36" />
<polygon points="231.0,244.4 253.6,257.6 253.6,262.0 231.0,278.0" fill="#1b1b72" />
<line x1="234.0" y1="257.8" x2="234.0" y2="291.8" stroke="#f06a9c" stroke-width="0.7" />
<line x1="237.0" y1="262.4" x2="237.0" y2="293.7" stroke="#f06a9c" stroke-width="0.7" />
<line x1="240.2" y1="267.3" x2="240.2" y2="295.7" stroke="#f06a9c" stroke-width="0.7" />
<line x1="244.6" y1="274.0" x2="244.6" y2="298.5" stroke="#f06a9c" stroke-width="0.7" />
<line x1="229.6" y1="243.5" x2="229.6" y2="289.0" stroke="#f0609a" stroke-width="1.5" />
<line x1="255.2" y1="259.6" x2="255.2" y2="305.1" stroke="#f0609a" stroke-width="1.5" />
<line x1="262.4" y1="261.0" x2="262.4" y2="309.5" stroke="#e04888" stroke-width="1.2" />
<polygon points="228.0,240.8 278.0,195.2 314.0,215.4 263.3,260.3" fill="#ea4a7e" stroke="#7c0c34" stroke-width="1" stroke-linejoin="round" />
<line x1="230.9" y1="242.4" x2="281.0" y2="196.9" stroke="#640a2c" stroke-width="1.05" />
<line x1="233.9" y1="244.1" x2="284.0" y2="198.6" stroke="#640a2c" stroke-width="1.05" />
<line x1="236.8" y1="245.7" x2="287.0" y2="200.2" stroke="#640a2c" stroke-width="1.05" />
<line x1="239.8" y1="247.3" x2="290.0" y2="201.9" stroke="#640a2c" stroke-width="1.05" />
<line x1="242.7" y1="248.9" x2="293.0" y2="203.6" stroke="#640a2c" stroke-width="1.05" />
<line x1="245.7" y1="250.6" x2="296.0" y2="205.3" stroke="#640a2c" stroke-width="1.05" />
<line x1="248.6" y1="252.2" x2="299.0" y2="207.0" stroke="#640a2c" stroke-width="1.05" />
<line x1="251.5" y1="253.8" x2="302.0" y2="208.7" stroke="#640a2c" stroke-width="1.05" />
<line x1="254.5" y1="255.4" x2="305.0" y2="210.3" stroke="#640a2c" stroke-width="1.05" />
<line x1="257.4" y1="257.1" x2="308.0" y2="212.0" stroke="#640a2c" stroke-width="1.05" />
<line x1="260.4" y1="258.7" x2="311.0" y2="213.7" stroke="#640a2c" stroke-width="1.05" />
<polygon points="228.0,240.8 263.3,260.3 263.3,262.9 228.0,243.4" fill="#e4487f" stroke="#7c0c34" stroke-width="0.5" stroke-linejoin="round" />
<polygon points="257.4,225.8 280.6,205.4 284.8,208.0 261.6,228.4" fill="#bfe6f4" stroke="#5a9ec0" stroke-width="0.4" stroke-linejoin="round" />
<line x1="258.6" y1="226.0" x2="281.8" y2="205.6" stroke="#ffffff" stroke-width="0.9" />
<polygon points="275.0,240.0 298.6,219.4 302.8,222.0 279.2,242.6" fill="#bfe6f4" stroke="#5a9ec0" stroke-width="0.4" stroke-linejoin="round" />
<line x1="276.2" y1="240.2" x2="299.8" y2="219.6" stroke="#ffffff" stroke-width="0.9" />
<polygon points="280.0,194.8 316.0,175.8 316.0,216.0" fill="#ee5c8c" />
<polygon points="316.0,175.8 353.0,199.0 316.0,216.0" fill="#e3497c" />
<polygon points="316.0,216.0 353.0,199.0 353.0,238.5 316.0,262.0" fill="#cf2c60" opacity=".92"/>
<polygon points="334.0,226.0 353.0,213.0 353.0,232.0 338.0,242.0" fill="#e03a28" opacity=".9"/>
<polyline points="280.0,194.8 316.0,175.8 353.0,199.0 316.0,216.0 280.0,194.8" fill="none" stroke="#860a38" stroke-width="2.0" stroke-linejoin="round"/>
<line x1="316.0" y1="175.8" x2="316.0" y2="216.0" stroke="#6e0a30" stroke-width="1.2" />
<line x1="353.0" y1="199.0" x2="353.0" y2="238.5" stroke="#8c0c3c" stroke-width="1.4" />
<polygon points="263.3,260.0 311.8,220.2 316.0,216.4 316.0,219.6 312.4,223.2 263.3,263.4" fill="#e8528c" stroke="#7c0c34" stroke-width="0.5" stroke-linejoin="round" />
<polygon points="280.0,272.0 290.0,273.6 344.0,240.0 353.0,234.0 366.0,241.0 359.5,246.5 300.0,283.4" fill="#1c50d0" />
<polygon points="300.0,283.4 359.5,246.5 366.0,241.0 368.0,254.0 320.0,296.0 318.6,294.6" fill="#dcc01c" />
<polygon points="354.0,211.6 366.0,207.6 366.0,246.0 354.0,248.0" fill="#ffe81a" />
<polygon points="367.0,209.0 407.0,232.6 407.0,272.0 367.0,247.6" fill="#f3b322" />
<polygon points="384.0,236.0 407.0,249.0 407.0,272.0 384.0,258.0" fill="#f4cf5a" />
<polygon points="319.6,296.0 368.0,254.0 408.0,233.0 408.0,272.0 319.6,336.0" fill="#d8bc1a" />
<polygon points="384.0,249.0 406.0,238.0 406.0,272.5 384.0,288.0" fill="#e2cc4c" />
<line x1="366.8" y1="208.6" x2="366.8" y2="247.0" stroke="#8e4c00" stroke-width="3.4" />
<line x1="366.8" y1="208.6" x2="366.8" y2="247.0" stroke="#f6a400" stroke-width="2.4" />
<line x1="368.4" y1="211.0" x2="368.4" y2="246.0" stroke="#5a2c00" stroke-width="0.7" />
<line x1="358.8" y1="211.8" x2="397.7" y2="235.2" stroke="#8a9098" stroke-width="4.2" stroke-linecap="round"/>
<line x1="358.8" y1="211.1" x2="397.7" y2="234.5" stroke="#f7f7f7" stroke-width="2.7" stroke-linecap="round"/>
<line x1="350.8" y1="217.1" x2="389.0" y2="239.9" stroke="#8a9098" stroke-width="4.2" stroke-linecap="round"/>
<line x1="350.8" y1="216.4" x2="389.0" y2="239.2" stroke="#f7f7f7" stroke-width="2.7" stroke-linecap="round"/>
<line x1="340.7" y1="221.8" x2="379.6" y2="245.3" stroke="#8a9098" stroke-width="4.2" stroke-linecap="round"/>
<line x1="340.7" y1="221.1" x2="379.6" y2="244.6" stroke="#f7f7f7" stroke-width="2.7" stroke-linecap="round"/>
<line x1="330.0" y1="228.0" x2="368.9" y2="250.7" stroke="#8a9098" stroke-width="4.2" stroke-linecap="round"/>
<line x1="330.0" y1="227.3" x2="368.9" y2="250.0" stroke="#f7f7f7" stroke-width="2.7" stroke-linecap="round"/>
<line x1="320.0" y1="236.0" x2="358.8" y2="257.4" stroke="#8a9098" stroke-width="4.2" stroke-linecap="round"/>
<line x1="320.0" y1="235.3" x2="358.8" y2="256.7" stroke="#f7f7f7" stroke-width="2.7" stroke-linecap="round"/>
<line x1="310.6" y1="243.3" x2="348.5" y2="266.0" stroke="#8a9098" stroke-width="4.2" stroke-linecap="round"/>
<line x1="310.6" y1="242.6" x2="348.5" y2="265.3" stroke="#f7f7f7" stroke-width="2.7" stroke-linecap="round"/>
<line x1="301.0" y1="251.7" x2="338.0" y2="275.5" stroke="#8a9098" stroke-width="4.2" stroke-linecap="round"/>
<line x1="301.0" y1="251.0" x2="338.0" y2="274.8" stroke="#f7f7f7" stroke-width="2.7" stroke-linecap="round"/>
<line x1="290.6" y1="261.2" x2="327.5" y2="285.0" stroke="#8a9098" stroke-width="4.2" stroke-linecap="round"/>
<line x1="290.6" y1="260.5" x2="327.5" y2="284.3" stroke="#f7f7f7" stroke-width="2.7" stroke-linecap="round"/>
<polyline points="366.2,207.9 407.4,232.8" fill="none" stroke="#8e4c00" stroke-width="4.2" />
<polyline points="366.2,207.9 407.4,232.8" fill="none" stroke="#f6a400" stroke-width="3.0" />
<line x1="367.0" y1="210.6" x2="405.6" y2="234.0" stroke="#5a2c00" stroke-width="0.7" />
<polyline points="319.6,294.6 368.0,253.0 408.2,233.0" fill="none" stroke="#8e4c00" stroke-width="5.4" stroke-linejoin="round"/>
<polyline points="319.6,294.6 368.0,253.0 408.2,233.0" fill="none" stroke="#f6a400" stroke-width="4.2" stroke-linejoin="round"/>
<polyline points="320.6,295.2 368.4,254.2 408.0,234.2" fill="none" stroke="#ffd35a" stroke-width="1.2" stroke-linejoin="round"/>
<line x1="406.8" y1="234.0" x2="406.8" y2="272.0" stroke="#8e4c00" stroke-width="3.0" />
<line x1="406.8" y1="234.0" x2="406.8" y2="272.0" stroke="#f6a400" stroke-width="2.0" />
<polygon points="408.0,234.0 420.0,241.0 420.0,266.5 408.0,272.0" fill="#f3e6a8" opacity=".85"/>
<polygon points="270.8,315.6 279.0,308.4 319.0,333.0 322.4,338.0 314.4,343.0" fill="#d6b81a" />
<polygon points="278.0,271.0 318.6,294.6 318.6,335.6 278.0,311.0" fill="#d6b818" />
<polygon points="281.0,275.0 300.0,286.0 300.0,321.0 281.0,310.0" fill="#156084" />
<polygon points="281.0,275.0 300.0,286.0 300.0,298.0 281.0,292.0" fill="#a8104a" />
<polyline points="278.0,271.0 318.6,294.6 318.6,335.6 278.0,311.0 278.0,271.0" fill="none" stroke="#8e4c00" stroke-width="3.4" stroke-linejoin="round"/>
<polyline points="278.0,271.0 318.6,294.6 318.6,335.6 278.0,311.0 278.0,271.0" fill="none" stroke="#f6a400" stroke-width="2.2" stroke-linejoin="round"/>
<line x1="285.4" y1="275.3" x2="285.4" y2="315.5" stroke="#8e4c00" stroke-width="2.2" />
<line x1="285.4" y1="275.3" x2="285.4" y2="315.5" stroke="#f6a400" stroke-width="1.3" />
<line x1="306.6" y1="287.6" x2="306.6" y2="328.3" stroke="#8e4c00" stroke-width="2.2" />
<line x1="306.6" y1="287.6" x2="306.6" y2="328.3" stroke="#f6a400" stroke-width="1.3" />
<line x1="310.6" y1="289.9" x2="310.6" y2="330.8" stroke="#8e4c00" stroke-width="2.2" />
<line x1="310.6" y1="289.9" x2="310.6" y2="330.8" stroke="#f6a400" stroke-width="1.3" />
<line x1="373.2" y1="228.0" x2="373.2" y2="270.6" stroke="#333" stroke-width="0.5" />
<polygon points="368.6,272.4 373.0,270.4 377.6,272.8 377.6,276.6 373.0,278.8 368.6,276.4" fill="#8a6a3c" stroke="#4a3414" stroke-width="0.4" stroke-linejoin="round" />
<polygon points="368.6,272.0 373.0,270.0 377.6,272.4 373.0,274.4" fill="#c0a070" />
<polygon points="325.0,336.5 333.5,341.6 381.0,371.4 385.0,385.4 325.0,348.2" fill="#1878ea" />
<polygon points="409.7,268.8 420.9,262.6 453.0,282.6 441.0,289.2" fill="#b6f0f8" opacity=".8"/>
<polygon points="409.7,280.0 420.9,273.6 467.0,300.0 455.6,307.0" fill="#8fe6f4" opacity=".72"/>
<polygon points="418.0,305.6 467.4,270.6 467.4,284.0 418.0,319.4" fill="#a4ecf6" opacity=".5"/>
<polygon points="333.5,302.4 380.4,332.0 380.4,342.5 333.5,312.9" fill="#8ccfe0" opacity="0.6"/>
<polygon points="333.5,312.9 380.4,342.5 380.4,354.0 333.5,324.4" fill="#a4e6f2" opacity="0.95"/>
<polygon points="333.5,324.4 380.4,354.0 380.4,363.6 333.5,334.0" fill="#36bcec" opacity="1"/>
<polygon points="333.5,334.0 380.4,363.6 380.4,375.0 333.5,345.4" fill="#1a84e2" opacity="1"/>
<polygon points="381.6,346.0 467.4,283.6 467.4,305.0 381.6,364.0" fill="#3cc6f2" opacity=".8"/>
<polygon points="381.6,364.0 467.4,305.0 472.0,309.0 384.5,374.0" fill="#1a7aea" />
<polygon points="430.0,311.0 467.4,283.6 467.4,305.0 430.0,331.0" fill="#a8ecf8" opacity=".5"/>
<line x1="420.6" y1="240.8" x2="420.6" y2="281.0" stroke="#0e5f80" stroke-width="3.3000000000000003" stroke-linecap="round"/>
<line x1="420.6" y1="240.8" x2="420.6" y2="281.0" stroke="#39c2e4" stroke-width="2.2" stroke-linecap="round"/>
<line x1="420.6" y1="240.8" x2="467.4" y2="269.4" stroke="#0e5f80" stroke-width="3.5" stroke-linecap="round"/>
<line x1="420.6" y1="240.8" x2="467.4" y2="269.4" stroke="#39c2e4" stroke-width="2.4" stroke-linecap="round"/>
<line x1="467.4" y1="269.4" x2="467.4" y2="310.6" stroke="#0e5f80" stroke-width="3.3000000000000003" stroke-linecap="round"/>
<line x1="467.4" y1="269.4" x2="467.4" y2="310.6" stroke="#39c2e4" stroke-width="2.2" stroke-linecap="round"/>
<line x1="441.7" y1="291.7" x2="441.7" y2="325.4" stroke="#0e5f80" stroke-width="3.1" stroke-linecap="round"/>
<line x1="441.7" y1="291.7" x2="441.7" y2="325.4" stroke="#39c2e4" stroke-width="2" stroke-linecap="round"/>
<line x1="418.0" y1="310.4" x2="418.0" y2="345.0" stroke="#0e5f80" stroke-width="3.1" stroke-linecap="round"/>
<line x1="418.0" y1="310.4" x2="418.0" y2="345.0" stroke="#39c2e4" stroke-width="2" stroke-linecap="round"/>
<line x1="333.5" y1="302.4" x2="380.4" y2="372.0" stroke="#12506a" stroke-width="2.0" />
<line x1="333.5" y1="345.0" x2="380.4" y2="332.0" stroke="#12506a" stroke-width="2.0" />
<line x1="333.5" y1="302.4" x2="333.5" y2="345.3" stroke="#0e5f80" stroke-width="3.3000000000000003" stroke-linecap="round"/>
<line x1="333.5" y1="302.4" x2="333.5" y2="345.3" stroke="#39c2e4" stroke-width="2.2" stroke-linecap="round"/>
<line x1="333.5" y1="302.4" x2="380.4" y2="332.0" stroke="#12506a" stroke-width="3.2" stroke-linecap="round"/>
<line x1="333.5" y1="301.5" x2="380.4" y2="331.1" stroke="#39c2e4" stroke-width="0.9" />
<line x1="380.4" y1="332.0" x2="467.4" y2="269.4" stroke="#0e5f80" stroke-width="3.5" stroke-linecap="round"/>
<line x1="380.4" y1="332.0" x2="467.4" y2="269.4" stroke="#39c2e4" stroke-width="2.4" stroke-linecap="round"/>
<line x1="380.4" y1="332.0" x2="380.4" y2="384.0" stroke="#0e5f80" stroke-width="3.3000000000000003" stroke-linecap="round"/>
<line x1="380.4" y1="332.0" x2="380.4" y2="384.0" stroke="#39c2e4" stroke-width="2.2" stroke-linecap="round"/>
<line x1="333.5" y1="344.6" x2="380.4" y2="362.0" stroke="#0e5f80" stroke-width="2.7" stroke-linecap="round"/>
<line x1="333.5" y1="344.6" x2="380.4" y2="362.0" stroke="#39c2e4" stroke-width="1.6" stroke-linecap="round"/>
<text transform="matrix(0.82,-0.575,0.62,0.40,372.6,320.6)" font-size="5.7" fill="#fff" font-family="'Liberation Sans','Noto Sans CJK SC',sans-serif" font-weight="bold">夹层示意结构图</text>
<text transform="matrix(0.82,-0.575,0.62,0.40,419.4,322.8)" font-size="5.4" fill="#fff" font-family="'Liberation Sans','Noto Sans CJK SC',sans-serif" font-weight="bold">夹层</text>
<rect x="373.8" y="321.6" width="14.6" height="60" rx="7.3" fill="none" stroke="#c8a030" stroke-width=".6" stroke-dasharray="1,0.8"/>
<circle cx="461.2" cy="287" r="2" fill="#dff" fill-opacity=".4" stroke="#333" stroke-width=".5"/>
<polyline points="361.1,270.0 361.1,123.4 371.8,130.1" fill="none" stroke="#444" stroke-width="0.5" />
<text transform="translate(372.6,133.2) rotate(37.0)" font-size="4.6" fill="#222" font-family="'Liberation Serif','Noto Serif CJK SC',serif" font-weight="600" textLength="15.0" lengthAdjust="spacingAndGlyphs">吊车梁</text>
<polyline points="375.9,267.0 375.9,193.1 387.1,199.9" fill="none" stroke="#444" stroke-width="0.5" />
<text transform="translate(388.0,202.8) rotate(35.0)" font-size="4.6" fill="#222" font-family="'Liberation Serif','Noto Serif CJK SC',serif" font-weight="600" textLength="28.5" lengthAdjust="spacingAndGlyphs">屋面作为荷载</text>
<polyline points="416.6,345.0 416.6,185.0 427.3,191.0" fill="none" stroke="#444" stroke-width="0.5" />
<text transform="translate(428.0,194.0) rotate(38.0)" font-size="4.6" fill="#222" font-family="'Liberation Serif','Noto Serif CJK SC',serif" font-weight="600" textLength="15.0" lengthAdjust="spacingAndGlyphs">抗风柱</text>
<text transform="translate(162.2,404.4) rotate(33.6)" font-size="4.7" fill="#222" font-family="'Liberation Serif','Noto Serif CJK SC',serif" font-weight="600" textLength="14.5" lengthAdjust="spacingAndGlyphs">屋面板</text>
<polyline points="174.8,410.0 197.3,424.5 197.3,214.0" fill="none" stroke="#666" stroke-width="0.45" />
<text transform="translate(240.4,367.0) rotate(33.6)" font-size="4.7" fill="#222" font-family="'Liberation Serif','Noto Serif CJK SC',serif" font-weight="600" textLength="14.5" lengthAdjust="spacingAndGlyphs">采光井</text>
<polyline points="252.6,372.8 280.0,390.2 280.0,300.0" fill="none" stroke="#666" stroke-width="0.45" />
<text transform="translate(264.6,419.6) rotate(33.6)" font-size="4.7" fill="#222" font-family="'Liberation Serif','Noto Serif CJK SC',serif" font-weight="600" textLength="9.6" lengthAdjust="spacingAndGlyphs">檩条</text>
<polyline points="274.0,422.6 293.0,435.0 293.0,292.0" fill="none" stroke="#666" stroke-width="0.45" />
<text transform="translate(172.4,455.0) rotate(33.6)" font-size="4.7" fill="#222" font-family="'Liberation Serif','Noto Serif CJK SC',serif" font-weight="600" textLength="40.0" lengthAdjust="spacingAndGlyphs">围外墙板 屋墙面夹</text>
<polyline points="207.0,474.7 227.0,487.6 227.0,282.0" fill="none" stroke="#666" stroke-width="0.45" />
<text transform="translate(307.4,413.0) rotate(33.6)" font-size="4.7" fill="#222" font-family="'Liberation Serif','Noto Serif CJK SC',serif" font-weight="600" textLength="33.0" lengthAdjust="spacingAndGlyphs">新增钢结构楼板</text>
<polyline points="335.6,428.0 355.0,440.0 355.0,335.0" fill="none" stroke="#666" stroke-width="0.45" />
<text transform="translate(320.6,461.6) rotate(33.6)" font-size="4.7" fill="#222" font-family="'Liberation Serif','Noto Serif CJK SC',serif" font-weight="600" textLength="32.0" lengthAdjust="spacingAndGlyphs">柱梁、柱间支撑</text>
<polyline points="348.5,478.2 367.2,488.8 367.2,350.0" fill="none" stroke="#666" stroke-width="0.45" />
<text transform="translate(274.6,484.4) rotate(33.6)" font-size="4.7" fill="#222" font-family="'Liberation Serif','Noto Serif CJK SC',serif" font-weight="600" textLength="14.0" lengthAdjust="spacingAndGlyphs">主框架</text>
<polyline points="286.6,489.8 306.4,502.4 306.4,330.0" fill="none" stroke="#666" stroke-width="0.45" />
<line x1="273.0" y1="300.0" x2="273.0" y2="385.8" stroke="#666" stroke-width="0.45" />
<line x1="273.0" y1="385.8" x2="280.0" y2="390.2" stroke="#666" stroke-width="0.45" />
<path d="M404,391 Q424,421 456,422.6 L455.4,418.6 L470.6,425.2 L458,433 L456.6,429.4 Q416,434 401,408Z" fill="url(#gArrow1)"/>
<path d="M516,418 Q548,420 557.6,384 L553.6,383 L562,370.4 L568.4,384.8 L564.6,384.2 Q558,436 512,434Z" fill="url(#gArrow2)"/>
<circle cx="506" cy="403.5" r="13.4" fill="none" stroke="#e86a4a" stroke-width=".5" stroke-dasharray="0.8,0.8"/>
<polyline points="503.2,416.6 503.2,452.6 569.0,452.6" fill="none" stroke="#e86a4a" stroke-width="0.5" stroke-dasharray="0.8,0.8"/>
<circle cx="569.6" cy="452.6" r="1" fill="#e02818"/>
<rect x="481.0" y="367.6" width="10.0" height="34.0" fill="#1a44b8" stroke="#5a1a10" stroke-width="1" />
<rect x="478.6" y="366.6" width="17.8" height="1.4" fill="#5a1a10" />
<line x1="481.0" y1="373.5" x2="491.0" y2="373.5" stroke="#5a1a10" stroke-width="0.6" />
<line x1="481.0" y1="380.0" x2="491.0" y2="380.0" stroke="#5a1a10" stroke-width="0.6" />
<line x1="481.0" y1="386.6" x2="491.0" y2="386.6" stroke="#5a1a10" stroke-width="0.6" />
<line x1="481.0" y1="393.2" x2="491.0" y2="393.2" stroke="#5a1a10" stroke-width="0.6" />
<polygon points="481.0,399.6 506.8,399.6 506.8,403.0 499.4,412.0 499.4,473.0 481.0,473.0" fill="#1a44b8" stroke="#5a1a10" stroke-width="1" stroke-linejoin="round" />
<line x1="491.0" y1="400.0" x2="491.0" y2="473.0" stroke="#5a1a10" stroke-width="0.7" />
<line x1="484.6" y1="403.0" x2="484.6" y2="473.0" stroke="#5a1a10" stroke-width="0.5" />
<line x1="491.0" y1="403.0" x2="499.0" y2="412.0" stroke="#5a1a10" stroke-width="0.5" />
<line x1="481.0" y1="422.5" x2="499.4" y2="422.5" stroke="#5a1a10" stroke-width="0.7" />
<line x1="481.0" y1="429.4" x2="499.4" y2="429.4" stroke="#5a1a10" stroke-width="0.7" />
<line x1="481.0" y1="444.4" x2="499.4" y2="444.4" stroke="#5a1a10" stroke-width="0.7" />
<line x1="481.0" y1="452.4" x2="499.4" y2="452.4" stroke="#5a1a10" stroke-width="0.7" />
<line x1="481.0" y1="460.5" x2="499.4" y2="460.5" stroke="#5a1a10" stroke-width="0.7" />
<line x1="481.0" y1="466.4" x2="499.4" y2="466.4" stroke="#5a1a10" stroke-width="0.7" />
<rect x="478.0" y="438.0" width="24.4" height="1.2" fill="#8a8aa0" />
<rect x="476.8" y="385.3" width="19.0" height="1.2" fill="#8a8aa0" />
<line x1="466.4" y1="469.8" x2="477.0" y2="469.8" stroke="#3a2010" stroke-width="0.7" />
<line x1="501.4" y1="469.8" x2="513.8" y2="469.8" stroke="#3a2010" stroke-width="0.7" />
<defs><pattern id="hatch" width="3.2" height="3.2" patternUnits="userSpaceOnUse" patternTransform="rotate(-50)"><rect width="3.2" height="3.2" fill="#f4cf3a"/><rect width="3.2" height="0.9" fill="#6a3a10"/></pattern></defs>
<rect x="469.4" y="474.3" width="42.0" height="7.0" fill="url(#hatch)" stroke="#6a3a10" stroke-width="0.5" />
<rect x="463.0" y="481.2" width="56.4" height="7.0" fill="url(#hatch)" stroke="#6a3a10" stroke-width="0.5" />
<rect x="457.0" y="489.0" width="67.0" height="3.6" fill="#5a5a5a" />
<text x="490.6" y="499.4" font-size="3.5" fill="#4a5a90" font-family="'Liberation Serif','Noto Serif CJK SC',serif" font-weight="normal" text-anchor="middle" textLength="70.0" lengthAdjust="spacingAndGlyphs" >增加基础，变形较大，对其有效进行加固</text>
<g transform="translate(0.7,0.5)">
<g transform="translate(0.9,0.9)">
<polygon points="569.5,270.0 595.0,270.0 595.0,287.5 667.3,287.5 667.3,321.0 612.4,356.0 612.4,376.0 569.5,376.0" fill="#111" />
</g>
<clipPath id="bk"><polygon points="569.5,270.0 595.0,270.0 595.0,287.5 667.3,287.5 667.3,321.0 612.4,356.0 612.4,376.0 569.5,376.0"/></clipPath>
<polygon points="569.5,270.0 595.0,270.0 595.0,287.5 667.3,287.5 667.3,321.0 612.4,356.0 612.4,376.0 569.5,376.0" fill="#1c5ad2" />
<g clip-path="url(#bk)" fill="none" stroke="#e6eeff" stroke-width=".36" opacity=".62">
<ellipse cx="594.9" cy="287.6" rx="3.2" ry="3.0"/>
<ellipse cx="594.7" cy="287.7" rx="6.7" ry="6.3"/>
<ellipse cx="594.6" cy="287.8" rx="10.3" ry="9.6"/>
<ellipse cx="594.4" cy="287.9" rx="13.8" ry="13.0"/>
<ellipse cx="594.3" cy="288.0" rx="17.4" ry="16.4"/>
<ellipse cx="594.2" cy="288.1" rx="21.0" ry="19.7"/>
<ellipse cx="594.0" cy="288.2" rx="24.6" ry="23.2"/>
<ellipse cx="593.9" cy="288.3" rx="28.3" ry="26.6"/>
<ellipse cx="593.7" cy="288.5" rx="32.0" ry="30.0"/>
<ellipse cx="593.6" cy="288.6" rx="35.6" ry="33.5"/>
<ellipse cx="593.4" cy="288.7" rx="39.4" ry="37.0"/>
<ellipse cx="593.3" cy="288.8" rx="43.1" ry="40.5"/>
<ellipse cx="593.1" cy="288.9" rx="46.9" ry="44.0"/>
<ellipse cx="593.0" cy="289.0" rx="50.6" ry="47.6"/>
<ellipse cx="592.8" cy="289.1" rx="54.4" ry="51.2"/>
<ellipse cx="592.7" cy="289.2" rx="58.3" ry="54.8"/>
<ellipse cx="592.5" cy="289.4" rx="62.1" ry="58.4"/>
<ellipse cx="592.4" cy="289.5" rx="66.0" ry="62.0"/>
<ellipse cx="592.2" cy="289.6" rx="69.9" ry="65.7"/>
<ellipse cx="592.0" cy="289.7" rx="73.8" ry="69.4"/>
<ellipse cx="591.9" cy="289.8" rx="77.7" ry="73.1"/>
<ellipse cx="591.7" cy="290.0" rx="81.7" ry="76.8"/>
<ellipse cx="591.6" cy="290.1" rx="85.7" ry="80.6"/>
<ellipse cx="591.4" cy="290.2" rx="89.7" ry="84.3"/>
<ellipse cx="591.2" cy="290.3" rx="93.8" ry="88.1"/>
<ellipse cx="591.1" cy="290.4" rx="97.8" ry="91.9"/>
<ellipse cx="590.9" cy="290.6" rx="101.9" ry="95.8"/>
<ellipse cx="590.8" cy="290.7" rx="106.0" ry="99.7"/>
<ellipse cx="590.6" cy="290.8" rx="110.2" ry="103.5"/>
<ellipse cx="590.4" cy="290.9" rx="114.3" ry="107.5"/>
<ellipse cx="590.3" cy="291.1" rx="118.5" ry="111.4"/>
<ellipse cx="590.1" cy="291.2" rx="122.7" ry="115.3"/>
<path d="M597.6,286.0 Q646.4,256.5 713.5,234.1"/>
<path d="M612.9,278.5 Q648.1,259.6 716.5,241.2"/>
<path d="M603.3,284.0 Q649.7,262.8 719.0,248.5"/>
<path d="M627.0,276.0 Q651.0,266.1 721.1,255.9"/>
<path d="M597.9,286.7 Q652.2,269.4 722.8,263.4"/>
<path d="M614.5,283.0 Q653.2,272.8 724.0,271.0"/>
<path d="M603.9,286.0 Q653.9,276.3 724.7,278.7"/>
<path d="M628.8,283.8 Q654.5,279.8 725.0,286.4"/>
<path d="M598.0,287.4 Q654.9,283.4 724.8,294.1"/>
<path d="M615.0,287.7 Q655.0,286.9 724.2,301.8"/>
<path d="M604.0,288.1 Q654.9,290.5 723.1,309.5"/>
<path d="M628.7,291.9 Q654.6,294.0 721.6,317.0"/>
<path d="M597.9,288.1 Q654.2,297.6 719.6,324.5"/>
<path d="M614.4,292.4 Q653.4,301.1 717.2,331.8"/>
<path d="M603.6,290.2 Q652.5,304.5 714.4,339.0"/>
<path d="M626.7,299.7 Q651.4,307.9 711.1,346.0"/>
<path d="M597.7,288.7 Q650.1,311.2 707.4,352.8"/>
<path d="M612.7,296.8 Q648.6,314.4 703.4,359.3"/>
<path d="M602.7,292.2 Q646.9,317.5 698.9,365.6"/>
<path d="M623.0,306.8 Q645.1,320.6 694.1,371.6"/>
<path d="M597.4,289.3 Q643.0,323.5 688.9,377.4"/>
<path d="M610.0,300.7 Q640.8,326.3 683.4,382.8"/>
<path d="M601.4,293.8 Q638.4,328.9 677.6,387.9"/>
<path d="M617.7,312.8 Q635.9,331.4 671.5,392.6"/>
<path d="M596.9,289.9 Q633.2,333.8 665.2,396.9"/>
<path d="M606.5,303.9 Q630.4,336.0 658.6,400.9"/>
<path d="M599.7,295.2 Q627.5,338.0 651.7,404.5"/>
<path d="M611.1,317.5 Q624.4,339.8 644.7,407.6"/>
<path d="M596.3,290.2 Q621.3,341.5 637.5,410.4"/>
<path d="M602.3,306.1 Q618.0,342.9 630.1,412.7"/>
<path d="M597.8,296.1 Q614.7,344.2 622.6,414.5"/>
<path d="M603.6,320.4 Q611.3,345.2 615.0,415.9"/>
<path d="M595.6,290.4 Q607.8,346.1 607.4,416.9"/>
<path d="M597.7,307.3 Q604.3,346.8 599.7,417.4"/>
<path d="M595.7,296.5 Q600.8,347.2 592.0,417.5"/>
<path d="M595.6,321.5 Q597.2,347.5 584.3,417.1"/>
<path d="M594.9,290.5 Q593.7,347.5 576.6,416.2"/>
<path d="M593.0,307.4 Q590.1,347.3 569.0,414.9"/>
<path d="M593.6,296.4 Q586.6,346.9 561.5,413.1"/>
<path d="M587.6,320.7 Q583.1,346.3 554.1,410.9"/>
<path d="M594.2,290.4 Q579.6,345.5 546.9,408.3"/>
<path d="M588.4,306.4 Q576.2,344.5 539.8,405.2"/>
<path d="M591.5,295.8 Q572.9,343.3 532.9,401.7"/>
<path d="M580.0,318.0 Q569.6,341.9 526.2,397.8"/>
<path d="M593.5,290.1 Q566.4,340.3 519.8,393.6"/>
<path d="M584.1,304.3 Q563.3,338.5 513.7,388.9"/>
<path d="M589.7,294.7 Q560.4,336.5 507.8,383.9"/>
<path d="M573.2,313.6 Q557.5,334.4 502.2,378.6"/>
<path d="M592.9,289.7 Q554.8,332.1 497.0,372.9"/>
<path d="M580.5,301.2 Q552.2,329.6 492.1,366.9"/>
<path d="M588.1,293.3 Q549.8,327.0 487.6,360.7"/>
<path d="M567.7,307.8 Q547.6,324.2 483.4,354.2"/>
<path d="M592.5,289.1 Q545.5,321.4 479.7,347.5"/>
<path d="M577.6,297.4 Q543.5,318.4 476.3,340.5"/>
<path d="M586.9,291.5 Q541.8,315.2 473.4,333.4"/>
<path d="M563.7,300.8 Q540.2,312.0 470.9,326.1"/>
<path d="M592.2,288.5 Q538.9,308.8 468.8,318.7"/>
<path d="M575.8,293.1 Q537.7,305.4 467.2,311.1"/>
<path d="M586.2,289.5 Q536.8,302.0 466.0,303.5"/>
<path d="M561.5,293.1 Q536.0,298.5 465.3,295.8"/>
<path d="M592.0,287.8 Q535.5,295.0 465.0,288.1"/>
<path d="M575.0,288.4 Q535.1,291.4 465.2,280.4"/>
<path d="M586.0,287.4 Q535.0,287.9 465.8,272.7"/>
<path d="M561.1,285.0 Q535.1,284.3 466.9,265.1"/>
<path d="M592.0,287.1 Q535.4,280.8 468.5,257.5"/>
<path d="M575.4,283.7 Q535.9,277.2 470.5,250.1"/>
<path d="M586.3,285.3 Q536.6,273.7 472.9,242.8"/>
<path d="M562.6,277.1 Q537.5,270.3 475.8,235.6"/>
<path d="M592.2,286.4 Q538.6,266.9 479.1,228.6"/>
<path d="M576.8,279.2 Q540.0,263.6 482.8,221.9"/>
<path d="M587.1,283.3 Q541.5,260.4 486.9,215.3"/>
<path d="M566.0,269.8 Q543.2,257.3 491.4,209.0"/>
<path d="M592.5,285.8 Q545.1,254.2 496.2,203.0"/>
</g>
<rect x="620.4" y="282.6" width="29.8" height="4.9" fill="#2ecad8" stroke="#0a6a80" stroke-width="0.4" />
<line x1="635.0" y1="252.6" x2="635.0" y2="277.0" stroke="#f04a1c" stroke-width="1.1" />
<polygon points="632.8,275.6 637.2,275.6 635.0,280.2" fill="#f04a1c" />
<text x="637.6" y="257.6" font-size="8" fill="#222" font-family="'Liberation Sans','Noto Sans CJK SC',sans-serif" font-weight="bold" text-anchor="start" >F</text>
<text x="642.6" y="258.2" font-size="5" fill="#222" font-family="'Liberation Sans','Noto Sans CJK SC',sans-serif" font-weight="bold" text-anchor="start" >Y</text>
<text x="639.4" y="279.4" font-size="9" fill="#222" font-family="'Liberation Sans','Noto Sans CJK SC',sans-serif" font-weight="bold" text-anchor="start" >b</text>
<text x="621.6" y="367.0" font-size="5" fill="#333" font-family="'Liberation Sans','Noto Sans CJK SC',sans-serif" font-weight="normal" text-anchor="start" >a</text>
<line x1="627.6" y1="365.4" x2="636.4" y2="365.4" stroke="#555" stroke-width="0.4" />
<text x="639.0" y="366.8" font-size="3.9" fill="#555" font-family="'Liberation Serif','Noto Serif CJK SC',serif" font-weight="normal" text-anchor="start" textLength="27.0" lengthAdjust="spacingAndGlyphs" >主拉应力迹线</text>
<text x="621.0" y="375.6" font-size="5" fill="#333" font-family="'Liberation Sans','Noto Sans CJK SC',sans-serif" font-weight="normal" text-anchor="start" >&amp;</text>
<line x1="627.6" y1="374.0" x2="636.4" y2="374.0" stroke="#555" stroke-width="0.4" />
<text x="639.0" y="375.4" font-size="3.9" fill="#555" font-family="'Liberation Serif','Noto Serif CJK SC',serif" font-weight="normal" text-anchor="start" textLength="27.0" lengthAdjust="spacingAndGlyphs" >主压应力迹线</text>
</g>
<rect x="570.2" y="395.6" width="97.2" height="105.6" fill="#f5b52a" />
<rect x="572.0" y="397.4" width="93.6" height="102.0" fill="none" stroke="#d89a1c" stroke-width="0.4" />
<rect x="604.4" y="423.0" width="53.0" height="51.8" fill="#8e8e8e" stroke="#4a4a4a" stroke-width="0.5" />
<clipPath id="sq"><rect x="607" y="425.6" width="47.8" height="46.6"/></clipPath>
<rect x="607.0" y="425.6" width="47.8" height="46.6" fill="#1836a6" />
<g clip-path="url(#sq)" stroke="#0a1250" stroke-width="1.3">
<line x1="547.8" y1="472.4" x2="585.8" y2="425.4"/>
<line x1="555.2" y1="472.4" x2="593.2" y2="425.4"/>
<line x1="562.6" y1="472.4" x2="600.6" y2="425.4"/>
<line x1="570.0" y1="472.4" x2="608.0" y2="425.4"/>
<line x1="577.4" y1="472.4" x2="615.4" y2="425.4"/>
<line x1="584.8" y1="472.4" x2="622.8" y2="425.4"/>
<line x1="592.2" y1="472.4" x2="630.2" y2="425.4"/>
<line x1="599.6" y1="472.4" x2="637.6" y2="425.4"/>
<line x1="607.0" y1="472.4" x2="645.0" y2="425.4"/>
<line x1="614.4" y1="472.4" x2="652.4" y2="425.4"/>
<line x1="621.8" y1="472.4" x2="659.8" y2="425.4"/>
<line x1="629.2" y1="472.4" x2="667.2" y2="425.4"/>
<line x1="636.6" y1="472.4" x2="674.6" y2="425.4"/>
<line x1="644.0" y1="472.4" x2="682.0" y2="425.4"/>
<line x1="651.4" y1="472.4" x2="689.4" y2="425.4"/>
<line x1="658.8" y1="472.4" x2="696.8" y2="425.4"/>
<line x1="666.2" y1="472.4" x2="704.2" y2="425.4"/>
<line x1="673.6" y1="472.4" x2="711.6" y2="425.4"/>
</g>
<polygon points="609.0,429.0 611.1,429.6 609.6,431.2" fill="#f4f8ff" />
<polygon points="608.8,436.4 610.9,437.0 609.4,438.6" fill="#f4f8ff" />
<polygon points="612.5,445.6 614.6,446.2 613.1,447.8" fill="#f4f8ff" />
<polygon points="611.2,450.6 613.3,451.2 611.8,452.8" fill="#f4f8ff" />
<polygon points="609.0,457.7 611.1,458.3 609.6,459.9" fill="#f4f8ff" />
<polygon points="612.6,468.0 614.7,468.6 613.2,470.2" fill="#f4f8ff" />
<polygon points="617.1,428.5 619.2,429.1 617.7,430.7" fill="#f4f8ff" />
<polygon points="619.8,438.7 621.9,439.3 620.4,440.9" fill="#f4f8ff" />
<polygon points="616.5,444.8 618.6,445.4 617.1,447.0" fill="#f4f8ff" />
<polygon points="618.6,450.1 620.7,450.7 619.2,452.3" fill="#f4f8ff" />
<polygon points="616.5,461.3 618.6,461.9 617.1,463.5" fill="#f4f8ff" />
<polygon points="618.8,465.5 620.9,466.1 619.4,467.7" fill="#f4f8ff" />
<polygon points="626.6,431.4 628.7,432.0 627.2,433.6" fill="#f4f8ff" />
<polygon points="626.2,436.5 628.3,437.1 626.8,438.7" fill="#f4f8ff" />
<polygon points="625.9,442.6 628.0,443.2 626.5,444.8" fill="#f4f8ff" />
<polygon points="627.8,449.4 629.9,450.0 628.4,451.6" fill="#f4f8ff" />
<polygon points="625.1,466.7 627.2,467.3 625.7,468.9" fill="#f4f8ff" />
<polygon points="633.0,432.0 635.1,432.6 633.6,434.2" fill="#f4f8ff" />
<polygon points="633.4,435.4 635.5,436.0 634.0,437.6" fill="#f4f8ff" />
<polygon points="632.7,443.6 634.8,444.2 633.3,445.8" fill="#f4f8ff" />
<polygon points="632.9,452.0 635.0,452.6 633.5,454.2" fill="#f4f8ff" />
<polygon points="631.8,456.9 633.9,457.5 632.4,459.1" fill="#f4f8ff" />
<polygon points="635.1,467.1 637.2,467.7 635.7,469.3" fill="#f4f8ff" />
<polygon points="640.6,427.9 642.7,428.5 641.2,430.1" fill="#f4f8ff" />
<polygon points="639.1,437.9 641.2,438.5 639.7,440.1" fill="#f4f8ff" />
<polygon points="643.7,445.5 645.8,446.1 644.3,447.7" fill="#f4f8ff" />
<polygon points="639.0,450.6 641.1,451.2 639.6,452.8" fill="#f4f8ff" />
<polygon points="642.8,458.7 644.9,459.3 643.4,460.9" fill="#f4f8ff" />
<polygon points="642.0,468.1 644.1,468.7 642.6,470.3" fill="#f4f8ff" />
<polygon points="647.5,429.2 649.6,429.8 648.1,431.4" fill="#f4f8ff" />
<polygon points="648.4,439.2 650.5,439.8 649.0,441.4" fill="#f4f8ff" />
<polygon points="646.5,442.0 648.6,442.6 647.1,444.2" fill="#f4f8ff" />
<polygon points="650.4,451.0 652.5,451.6 651.0,453.2" fill="#f4f8ff" />
<polygon points="647.0,461.5 649.1,462.1 647.6,463.7" fill="#f4f8ff" />
<polygon points="647.5,464.3 649.6,464.9 648.1,466.5" fill="#f4f8ff" />
<polyline points="610.4,424.0 605.4,424.0 605.4,429.0" fill="none" stroke="#fff" stroke-width="1.4" />
<polyline points="651.4,424.0 656.4,424.0 656.4,429.0" fill="none" stroke="#fff" stroke-width="1.4" />
<polyline points="610.4,473.8 605.4,473.8 605.4,468.8" fill="none" stroke="#fff" stroke-width="1.4" />
<polyline points="651.4,473.8 656.4,473.8 656.4,468.8" fill="none" stroke="#fff" stroke-width="1.4" />
<text x="630.6" y="449.8" font-size="4.6" fill="#fff" font-family="'Liberation Sans','Noto Sans CJK SC',sans-serif" font-weight="normal" text-anchor="middle" >圆柱截面</text>
<text x="578.7" y="410.4" font-size="3.9" fill="#3a2806" font-family="'Liberation Serif','Noto Serif CJK SC',serif" font-weight="normal" text-anchor="start" textLength="25.0" lengthAdjust="spacingAndGlyphs" >新增受力角钢</text>
<text x="578.7" y="415.4" font-size="3.2" fill="#3a2806" font-family="'Liberation Sans','Noto Sans CJK SC',sans-serif" font-weight="bold" text-anchor="start" >4L100x10</text>
<text x="632.8" y="410.4" font-size="3.9" fill="#3a2806" font-family="'Liberation Serif','Noto Serif CJK SC',serif" font-weight="normal" text-anchor="start" textLength="25.0" lengthAdjust="spacingAndGlyphs" >环氧砂浆底层</text>
<text x="578.7" y="425.2" font-size="3.2" fill="#3a2806" font-family="'Liberation Sans','Noto Sans CJK SC',sans-serif" font-weight="bold" text-anchor="start" >△HV=5</text>
<text x="578.7" y="451.6" font-size="2.9" fill="#3a2806" font-family="'Liberation Sans','Noto Sans CJK SC',sans-serif" font-weight="bold" text-anchor="start" >6@@200,800,400</text>
<line x1="578.7" y1="452.4" x2="603.0" y2="452.4" stroke="#3a2806" stroke-width="0.4" />
<text x="578.7" y="457.4" font-size="3.6" fill="#3a2806" font-family="'Liberation Serif','Noto Serif CJK SC',serif" font-weight="normal" text-anchor="start" textLength="24.5" lengthAdjust="spacingAndGlyphs" >缀板与角钢焊接</text>
<text x="578.7" y="486.2" font-size="3.9" fill="#3a2806" font-family="'Liberation Serif','Noto Serif CJK SC',serif" font-weight="normal" text-anchor="start" >法筋</text>
<text x="609.4" y="483.4" font-size="3.9" fill="#3a2806" font-family="'Liberation Serif','Noto Serif CJK SC',serif" font-weight="normal" text-anchor="start" textLength="31.0" lengthAdjust="spacingAndGlyphs" >保护层厚度为20</text>
<text x="609.4" y="489.0" font-size="3.6" fill="#3a2806" font-family="'Liberation Serif','Noto Serif CJK SC',serif" font-weight="normal" text-anchor="start" textLength="23.0" lengthAdjust="spacingAndGlyphs" >1:2.5水泥砂浆</text>
<text x="647.2" y="489.4" font-size="7.2" fill="#222" font-family="'Liberation Sans','Noto Sans CJK SC',sans-serif" font-weight="bold" text-anchor="start" >1-1</text>
<polyline points="604.2,411.6 611.6,411.6 606.4,424.0" fill="none" stroke="#3a2806" stroke-width="0.35" />
<polyline points="632.8,411.6 629.0,411.6 626.4,423.4" fill="none" stroke="#3a2806" stroke-width="0.35" />
<line x1="594.0" y1="424.2" x2="605.0" y2="424.2" stroke="#3a2806" stroke-width="0.35" />
<polyline points="590.6,485.0 598.6,485.0 606.6,472.6" fill="none" stroke="#3a2806" stroke-width="0.35" />
<polyline points="609.4,478.6 641.0,478.6 645.4,473.6" fill="none" stroke="#3a2806" stroke-width="0.35" />
</svg></body></html>
